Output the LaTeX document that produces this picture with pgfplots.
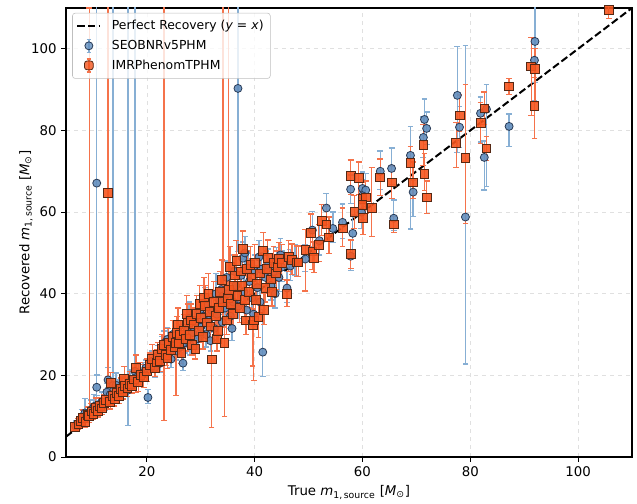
\documentclass[border=0pt]{standalone}
\usepackage{fontspec}
\setmainfont{DejaVu Sans}
\usepackage{pgfplots}
\usepackage{pgfplotstable}
\pgfplotsset{compat=1.18}

\definecolor{sfill}{RGB}{98,142,190}
\definecolor{sedge}{RGB}{40,58,85}
\definecolor{sbar}{RGB}{135,175,212}
\definecolor{ofill}{RGB}{245,85,30}
\definecolor{oedge}{RGB}{85,40,20}
\definecolor{obar}{RGB}{245,115,75}

\begin{document}
% SEOBNRv5PHM: true, recovered, err+, err-
\pgfplotstableread{
x y ep em
6.8 7.6 1.2 1.0
7.4 8.4 1.5 1.2
7.9 9.6 2.0 1.5
8.5 10.8 3.5 1.6
9.0 9.8 1.6 1.3
9.6 11.5 2.5 1.8
10.2 12.4 3.0 2.0
10.7 17.1 3.0 2.0
10.7 67.1 50 55
11.0 12.0 1.8 1.4
11.6 13.4 2.5 1.8
12.2 13.0 2.0 1.6
12.6 15.9 2.2 1.8
12.8 18.9 3.0 2.0
13.2 15.3 3.0 2.0
13.7 17.5 95 2.0
14.3 17.6 3.0 2.2
14.8 16.4 2.5 1.8
15.5 17.2 2.5 2.0
16.5 16.4 95 8.6
17.0 18.8 2.5 2.0
17.8 21.0 90 2.5
18.5 20.2 2.5 2.0
19.3 20.6 2.5 2.0
20.2 14.6 2.0 1.5
19.8 21.8 2.0 1.8
21.0 23.5 2.5 2.0
21.5 22.0 3.0 2.5
22.0 24.8 2.5 2.0
22.5 23.0 2.8 2.2
22.8 26.5 3.0 2.5
23.2 27.9 3.0 2.5
23.5 25.5 2.5 2.0
23.8 28.8 3.0 2.5
24.0 26.8 3.0 2.5
24.5 24.0 2.5 2.0
24.8 30.0 3.5 2.5
25.0 28.0 3.0 2.5
25.5 26.0 3.0 2.2
26.0 29.5 3.0 2.5
26.3 27.0 3.0 2.5
26.7 23.0 2.0 1.8
27.0 28.0 3.0 2.5
27.5 31.0 3.5 2.8
27.8 34.0 4.0 3.0
28.0 27.5 3.0 2.5
28.5 30.5 3.5 3.0
29.0 33.0 3.5 3.0
29.5 29.0 3.0 2.5
29.8 35.5 4.0 3.0
30.0 31.8 3.5 3.0
30.5 34.5 4.0 3.0
30.8 37.5 4.0 3.5
31.0 30.0 3.5 3.0
31.5 33.5 3.5 3.0
31.8 28.5 3.0 2.5
32.0 36.0 4.0 3.0
32.5 31.5 3.0 2.8
32.8 40.0 5.0 4.0
33.0 35.0 3.5 3.0
33.5 38.5 4.0 3.5
33.8 41.0 4.5 3.5
34.0 33.0 3.5 3.0
34.2 39.5 4.0 3.5
34.5 36.5 4.0 3.5
34.8 44.0 4.0 3.5
35.0 40.0 4.0 3.5
35.5 34.5 3.5 3.0
35.8 31.5 3.5 3.0
36.0 38.0 4.0 3.0
36.2 45.5 4.0 3.5
36.5 42.0 4.5 3.5
36.9 90.3 25 40
37.0 37.0 3.5 3.0
37.5 44.5 4.0 3.5
37.8 48.7 4.0 3.5
38.0 40.5 4.0 3.5
38.2 50.0 4.0 3.5
38.5 36.0 3.5 3.0
38.8 46.0 4.0 3.5
39.0 43.0 4.0 3.5
39.5 39.0 4.0 3.0
39.8 35.0 3.5 3.0
40.0 45.5 4.0 3.5
40.5 41.5 4.0 3.5
40.8 49.0 4.0 3.5
41.0 38.0 3.5 3.0
41.2 46.0 4.0 3.5
41.5 25.7 10.5 6.0
42.0 44.0 4.0 3.5
42.5 47.0 4.0 3.5
43.0 42.0 4.0 3.5
43.5 45.5 4.0 3.5
43.8 40.0 4.0 3.5
44.0 47.8 3.5 3.0
44.5 44.0 4.0 3.5
44.8 49.5 4.0 3.5
45.0 46.5 4.0 3.5
46.0 41.4 4.0 3.5
46.6 46.8 4.0 3.5
47.5 48.0 4.0 3.5
49.4 48.5 3.5 3.0
50.7 55.6 4.5 4.0
52.0 53.0 4.0 3.5
53.3 61.0 3.5 4.0
54.5 56.0 4.0 3.5
56.3 57.5 4.5 4.0
57.8 65.6 3.5 3.5
57.8 49.2 4.0 3.5
58.2 54.8 4.5 5.0
59.8 60.0 5.0 4.0
60.0 65.8 4.0 4.0
60.6 65.4 4.0 4.0
60.0 64.0 4.0 4.0
63.3 70.0 5.0 4.5
65.4 70.7 5.0 4.0
65.8 58.5 4.5 3.0
68.9 73.9 7.0 18.0
69.4 64.9 3.0 6.0
71.3 78.3 5.0 5.0
71.5 82.7 5.0 4.0
71.9 80.5 4.0 4.0
77.6 88.6 12 14
78.0 80.8 5.0 5.0
79.1 58.8 42 36
81.9 84.2 4.0 7.0
83.0 85.2 6.0 19.0
82.6 73.4 4.0 8.0
87.2 81.0 3.0 5.0
91.9 97.2 15 10
92.0 101.8 15 10
}\seob

% IMRPhenomTPHM: true, recovered, err+, err-
\pgfplotstableread{
x y ep em
6.7 7.3 1.0 0.8
7.3 8.0 1.5 1.2
7.8 8.8 1.3 1.0
8.2 9.5 2.0 1.5
8.6 8.6 1.5 1.2
9.0 10.3 2.0 1.5
9.3 10.0 100 1.5
9.7 11.2 2.0 1.5
10.1 10.6 1.8 1.4
10.5 12.0 2.5 1.8
10.9 11.3 1.8 1.5
11.3 12.5 2.0 1.6
11.7 11.9 1.8 1.5
12.1 13.2 2.2 1.8
12.4 14.0 2.5 2.0
12.8 64.7 50 45
13.2 13.5 2.0 1.7
13.3 18.2 2.5 2.0
13.6 15.0 2.5 2.0
14.0 14.3 2.0 1.8
14.4 15.8 2.5 2.0
14.8 15.0 2.0 1.8
15.2 16.6 2.8 2.0
15.6 16.0 2.2 1.8
15.8 19.2 3.0 2.5
16.0 17.4 2.8 2.2
16.4 16.8 2.5 2.0
16.8 18.0 3.0 2.2
17.2 17.5 2.5 2.0
17.6 19.0 3.0 2.5
18.0 21.8 3.2 6.0
18.4 18.5 3.0 2.5
18.8 20.2 3.0 2.5
19.4 19.6 3.0 2.5
20.0 21.0 3.0 2.5
20.5 22.5 3.0 2.5
21.0 24.0 3.5 2.5
21.5 21.8 2.5 2.0
21.8 23.2 3.0 2.5
22.0 25.0 3.0 2.5
22.4 23.5 3.0 2.5
22.8 26.5 3.5 2.5
23.2 27.4 90 18.4
23.6 25.0 3.0 2.5
23.8 24.2 3.0 2.5
24.0 28.0 3.5 2.8
24.4 26.2 3.0 2.5
24.8 29.5 4.0 3.0
25.2 27.0 3.0 2.5
25.4 28.0 3.0 13.0
25.6 30.5 4.0 3.0
25.8 32.5 4.0 3.0
26.0 28.0 3.5 2.8
26.2 30.0 3.5 3.0
26.4 25.5 3.0 2.5
26.8 31.0 4.0 3.0
27.2 29.0 3.5 3.0
27.4 35.0 4.5 3.5
27.6 33.0 4.5 3.5
28.0 30.0 3.5 3.0
28.2 33.5 4.0 3.5
28.4 27.5 3.0 2.5
28.8 32.5 4.0 3.0
29.0 26.5 3.0 2.5
29.2 35.0 4.5 3.5
29.6 31.0 4.0 3.0
29.8 37.5 4.5 3.5
30.0 34.0 4.0 3.5
30.4 29.5 3.5 3.0
30.6 39.0 5.0 4.0
30.8 37.0 5.0 4.0
31.2 33.0 4.0 3.5
31.4 40.0 5.0 4.0
31.6 35.5 4.5 3.5
31.8 32.0 4.0 3.5
32.0 23.9 5.0 16.6
32.4 38.0 5.0 4.0
32.8 34.5 4.0 3.5
33.0 29.0 3.5 3.0
33.2 31.0 4.0 3.0
33.4 36.5 4.5 4.0
33.6 40.5 5.0 4.0
33.9 43.3 5.0 4.0
34.1 38.0 75 4.0
34.4 27.9 4.0 18.0
34.8 33.5 4.0 3.5
35.0 39.0 4.5 4.0
35.2 41.0 75 4.0
35.4 46.5 5.0 4.0
35.6 37.5 4.5 4.0
36.0 35.0 4.0 3.5
36.2 42.0 4.5 4.0
36.4 44.5 5.0 4.0
36.6 48.0 5.0 4.0
36.8 39.5 4.5 4.0
37.2 36.5 4.0 3.5
37.4 45.5 4.5 4.0
37.6 42.0 5.0 4.0
37.8 50.9 4.5 4.0
38.2 38.5 4.5 4.0
38.4 33.5 4.0 3.5
38.6 46.0 4.5 4.0
39.0 40.5 4.5 4.0
39.2 47.0 4.5 4.0
39.4 44.0 4.5 4.0
39.6 32.3 4.0 10.0
39.8 33.5 4.0 14.7
40.0 47.5 4.5 4.0
40.2 38.5 4.0 3.5
40.4 42.5 4.5 4.0
40.7 34.3 4.0 5.0
41.0 45.0 4.5 4.0
41.6 50.5 4.5 4.0
41.7 36.0 4.0 3.5
42.0 41.5 4.0 3.5
42.2 46.0 4.5 4.0
42.4 48.7 4.5 4.0
43.0 43.5 4.5 4.0
43.2 40.5 4.0 3.5
43.5 47.5 4.0 3.5
44.0 45.0 4.5 4.0
44.2 46.5 4.0 3.5
44.5 48.5 4.0 3.5
45.0 47.5 4.5 4.0
46.0 39.9 3.5 3.0
46.3 49.0 4.0 3.5
46.9 48.2 4.0 3.5
47.8 47.7 4.0 3.5
48.1 47.7 4.0 3.5
49.4 50.7 5.0 10.0
50.4 55.0 4.5 4.0
50.7 50.4 5.0 4.5
51.0 48.7 4.0 3.5
51.9 51.9 5.0 4.0
52.4 57.8 4.0 3.5
53.3 57.0 4.5 4.0
53.8 53.8 5.0 4.0
56.3 56.0 5.0 4.5
57.8 68.8 4.0 4.5
57.8 49.7 3.5 3.5
58.5 60.0 4.0 4.0
59.3 68.3 4.0 4.0
60.0 63.2 4.0 3.5
60.6 63.6 4.0 4.0
60.0 61.7 3.5 3.5
60.1 58.5 4.0 4.0
61.7 61.0 10 7.0
63.3 68.5 4.5 4.5
65.4 67.3 4.0 4.0
65.8 57.0 2.0 2.0
68.9 72.0 4.0 4.0
69.4 67.3 5.0 4.0
71.3 76.4 5.0 5.0
71.5 69.3 5.0 4.0
71.9 63.6 4.0 4.0
77.4 76.9 5.0 6.0
78.0 83.7 5.0 4.0
79.1 73.2 18 16
81.9 81.8 5.0 5.0
82.6 85.4 4.0 4.0
83.0 75.6 3.0 3.0
87.2 90.8 2.0 2.0
91.3 95.7 7.0 12
92.0 95.0 5.0 8.0
91.9 86.0 7.0 8.0
105.7 109.5 3.0 2.0
}\imr

\begin{tikzpicture}
\begin{axis}[
    scale only axis,
    width=424.5pt, height=336.8pt,
    xmin=5, xmax=110, ymin=0, ymax=110,
    xtick={20,40,60,80,100},
    ytick={0,20,40,60,80,100},
    tick align=outside, tick pos=left,
    major tick length=3.5pt,
    every tick/.style={black, line width=0.8pt},
    axis line style={line width=0.9pt},
    grid=major,
    grid style={dashed, black!12, line width=0.5pt},
    /pgf/number format/assume math mode=true,
    tick label style={font=\fontsize{10}{12}\selectfont},
    label style={font=\fontsize{10}{12}\selectfont},
    ylabel style={yshift=-8pt},
    xlabel={True \textit{m}\textsubscript{1,\,source} [\textit{M}\textsubscript{⊙}]},
    ylabel={Recovered \textit{m}\textsubscript{1,\,source} [\textit{M}\textsubscript{⊙}]},
    legend cell align=left,
    legend style={
        at={(0.011,0.989)}, anchor=north west,
        draw=black!25, rounded corners=2pt,
        fill=white, fill opacity=0.8, text opacity=1,
        font=\fontsize{9.3}{11}\selectfont,
        row sep=2.2pt, inner xsep=3pt, inner ysep=3.5pt,
        /tikz/every odd column/.append style={column sep=6pt},
    },
]
% y = x reference line
\addplot[black, line width=1.5pt, dash pattern=on 5.5pt off 2.4pt] coordinates {(5,5) (110,110)};
\addlegendentry{Perfect Recovery (\textit{y} = \textit{x})}

\addplot[only marks, mark=*, mark size=3pt,
    mark options={fill=sfill, draw=sedge, line width=0.6pt, fill opacity=0.9},
    legend image code/.code={
        \draw[sbar, line width=1pt] (0.3cm,-0.17cm) -- (0.3cm,0.17cm)
            (0.24cm,-0.17cm) -- (0.36cm,-0.17cm) (0.24cm,0.17cm) -- (0.36cm,0.17cm);
        \draw[sedge, fill=sfill, line width=0.6pt] (0.3cm,0cm) circle (3pt);
    },
    error bars/.cd, y dir=both, y explicit,
    error bar style={sbar, line width=1pt},
    error mark options={rotate=90, sbar, mark size=2.2pt, line width=1pt}]
    table[x=x, y=y, y error plus=ep, y error minus=em] {\seob};
\addlegendentry{SEOBNRv5PHM}

\addplot[only marks, mark=square*, mark size=3.3pt,
    mark options={fill=ofill, draw=oedge, line width=0.6pt, fill opacity=0.9},
    legend image code/.code={
        \draw[obar, line width=1pt] (0.3cm,-0.17cm) -- (0.3cm,0.17cm)
            (0.24cm,-0.17cm) -- (0.36cm,-0.17cm) (0.24cm,0.17cm) -- (0.36cm,0.17cm);
        \draw[oedge, fill=ofill, line width=0.6pt] (0.3cm-3.3pt,-3.3pt) rectangle (0.3cm+3.3pt,3.3pt);
    },
    error bars/.cd, y dir=both, y explicit,
    error bar style={obar, line width=1pt},
    error mark options={rotate=90, obar, mark size=2.2pt, line width=1pt}]
    table[x=x, y=y, y error plus=ep, y error minus=em] {\imr};
\addlegendentry{IMRPhenomTPHM}
\end{axis}
\path (current axis.south west) ++(-49.5pt,-28.5pt) coordinate (bl);
\path (current axis.north east) ++(3.75pt,6pt) coordinate (tr);
\useasboundingbox (bl) rectangle (tr);
\end{tikzpicture}
\end{document}
